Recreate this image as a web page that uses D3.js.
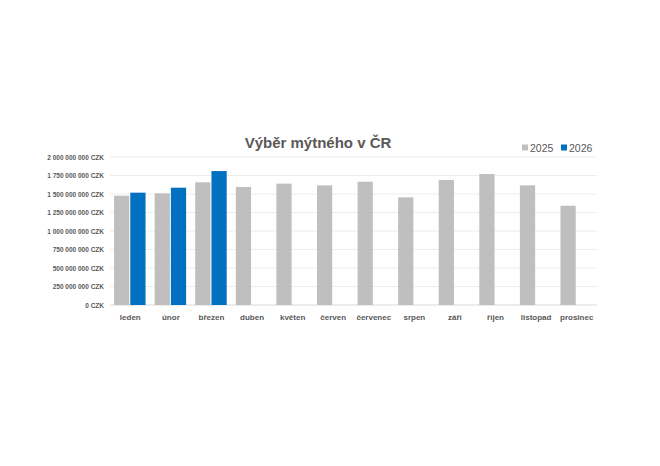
<!DOCTYPE html>
<html><head><meta charset="utf-8">
<script src="https://cdn.jsdelivr.net/npm/d3@7"></script>
<style>body{margin:0;background:#fff}text{font-family:"Liberation Sans",Arial,sans-serif}</style>
</head><body><svg id="c" width="660" height="466"></svg>
<script>
const months=["leden","únor","březen","duben","květen","červen","červenec","srpen","září","říjen","listopad","prosinec"];
const v2025=[1477e6,1509e6,1658e6,1595e6,1640e6,1617e6,1666e6,1455e6,1690e6,1770e6,1617e6,1342e6];
const v2026=[1518e6,1585e6,1810e6,null,null,null,null,null,null,null,null,null];
const ticks=[0,250e6,500e6,750e6,1000e6,1250e6,1500e6,1750e6,2000e6];
const series=["2025","2026"], colors=["#bfbfbf","#0070c0"];
const svg=d3.select("#c");
const x=d3.scaleBand().domain(months).range([110,597]).paddingInner(0.2).paddingOuter(0.1);
const x1=d3.scaleBand().domain(series).range([0,x.bandwidth()]);
const y=d3.scaleLinear().domain([0,2e9]).range([305,157]);
const fmt=v=>d3.format(",")(v).replace(/,/g," ")+" CZK";
svg.append("g").selectAll("line").data(ticks).join("line")
 .attr("x1",110).attr("x2",597).attr("y1",d=>y(d)).attr("y2",d=>y(d))
 .attr("stroke",d=>d===0?"#d9d9d9":"#ececec").attr("stroke-width",1);
svg.append("g").selectAll("text").data(ticks).join("text")
 .attr("x",104).attr("y",d=>y(d)+2.5).attr("text-anchor","end")
 .attr("font-size",6.5).attr("font-weight","bold").attr("fill","#595959").text(fmt);
[v2025,v2026].forEach((arr,i)=>{
 svg.append("g").selectAll("rect").data(months.map((m,j)=>({m,v:arr[j]})).filter(d=>d.v!=null)).join("rect")
  .attr("x",d=>x(d.m)+x1(series[i])).attr("width",x1.bandwidth()-1)
  .attr("y",d=>y(d.v)).attr("height",d=>y(0)-y(d.v)).attr("fill",colors[i]);
});
svg.append("g").selectAll("text").data(months).join("text")
 .attr("x",d=>x(d)+x.bandwidth()/2).attr("y",320).attr("text-anchor","middle")
 .attr("font-size",8).attr("font-weight","bold").attr("fill","#595959").text(d=>d);
svg.append("text").attr("x",318).attr("y",148).attr("text-anchor","middle")
 .attr("font-size",15).attr("font-weight","bold").attr("fill","#595959").text("Výběr mýtného v ČR");
series.forEach((s,i)=>{
 const lx=522+i*39;
 svg.append("rect").attr("x",lx).attr("y",144.5).attr("width",6).attr("height",6).attr("fill",colors[i]);
 svg.append("text").attr("x",lx+8).attr("y",151.5).attr("font-size",10.5).attr("fill","#595959").text(s);
});
</script></body></html>
